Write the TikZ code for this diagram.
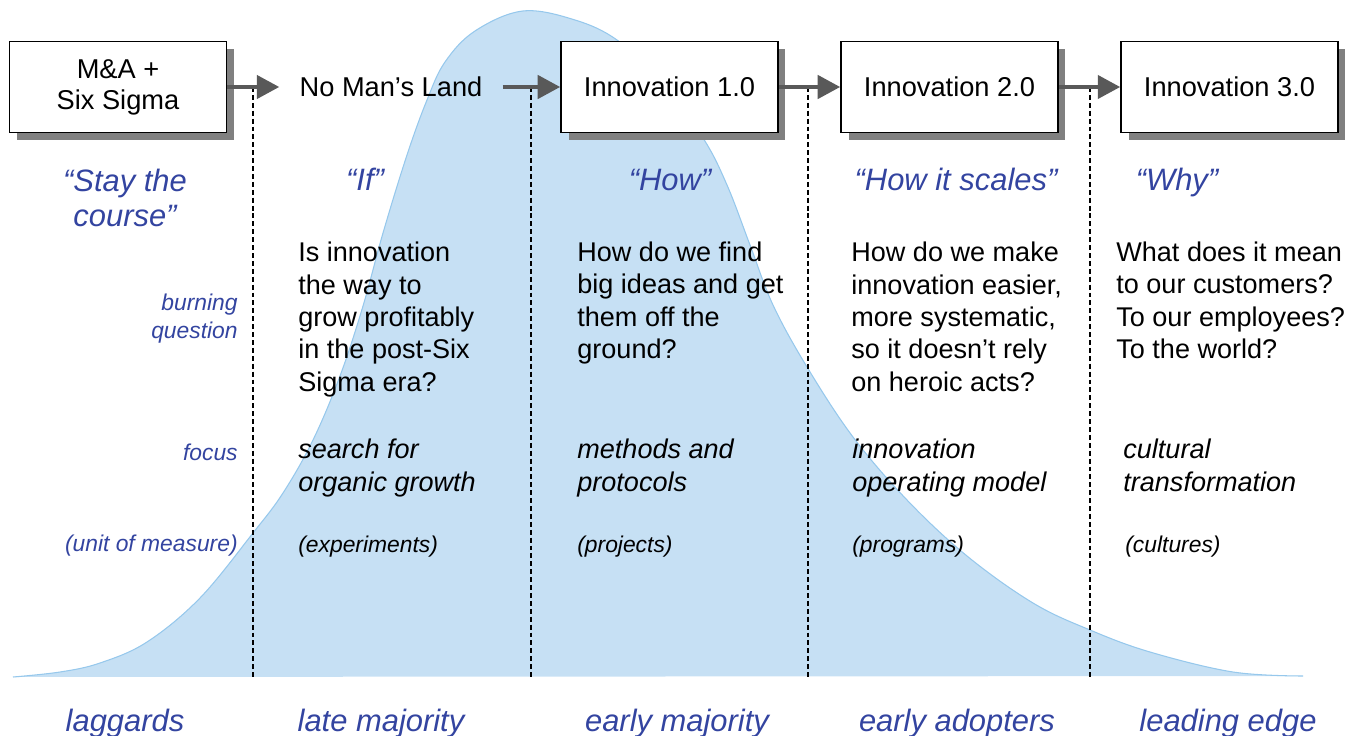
\documentclass[tikz,border=0pt]{standalone}
\usepackage{fontspec}
\setmainfont{Liberation Sans}
\usepackage{tikz}
\usetikzlibrary{arrows.meta,shadows}
\definecolor{qblue}{RGB}{51,68,160}
\definecolor{bellfill}{RGB}{198,224,244}
\definecolor{belledge}{RGB}{150,200,236}
\definecolor{arrgray}{RGB}{89,89,89}
\tikzstyle{stage}=[draw=black, line width=0.9pt, fill=white, minimum width=4.34cm, minimum height=1.82cm, align=center, font=\fontsize{15.5}{17.6}\selectfont, drop shadow={shadow xshift=0.15cm, shadow yshift=-0.15cm, fill=black!50, opacity=1}]
\tikzstyle{flow}=[arrgray, line width=2.5pt, -{Triangle[length=0.45cm,width=0.46cm]}]
\tikzstyle{divider}=[dash pattern=on 2.8pt off 1.7pt, line width=0.7pt]
\tikzstyle{quote}=[qblue, anchor=base, align=center, inner sep=0pt, font=\fontsize{17.6}{20.4}\selectfont\itshape]
\tikzstyle{ask}=[anchor=base west, align=left, inner sep=0pt, font=\fontsize{15.4}{18.4}\selectfont]
\tikzstyle{aim}=[anchor=base west, align=left, inner sep=0pt, font=\fontsize{15.4}{18.7}\selectfont\itshape]
\tikzstyle{unit}=[anchor=base west, inner sep=0pt, font=\fontsize{13}{15.9}\selectfont\itshape]
\tikzstyle{rowlabel}=[qblue, anchor=base east, align=right, inner sep=0pt, font=\fontsize{13}{15.9}\selectfont\itshape]
\tikzstyle{segment}=[qblue, anchor=base, inner sep=0pt, font=\fontsize{17.6}{20}\selectfont\itshape]

\begin{document}
\begin{tikzpicture}[x=0.02cm, y=-0.02cm]
\useasboundingbox (0,0) rectangle (1358,736);
% adoption curve
\fill[bellfill] plot[smooth, tension=0.6] coordinates {(13,677) (60,672) (100,663) (147,642) (200,598) (253,533) (283,493) (313,440) (340,376) (363,306) (383,233) (407,155) (427,100) (445,62) (475,31) (523,11) (575,20) (617,40) (660,80) (703,138) (727,185) (750,245) (773,305) (807,367) (853,437) (907,500) (967,556) (1033,603) (1090,630) (1150,652) (1233,672) (1303,676)} -- cycle;
\draw[belledge, line width=0.6pt] plot[smooth, tension=0.6] coordinates {(13,677) (60,672) (100,663) (147,642) (200,598) (253,533) (283,493) (313,440) (340,376) (363,306) (383,233) (407,155) (427,100) (445,62) (475,31) (523,11) (575,20) (617,40) (660,80) (703,138) (727,185) (750,245) (773,305) (807,367) (853,437) (907,500) (967,556) (1033,603) (1090,630) (1150,652) (1233,672) (1303,676)};
% dividers
\foreach \i/\x in {1/253, 2/531, 3/808, 4/1090} {
  \coordinate (top\i) at (\x,87);
  \coordinate (bot\i) at (\x,677);
  \draw[divider] (top\i) -- (bot\i);
}
% stages
\node[stage] (mna) at (118,87) {M\&A +\\Six Sigma};
\node[inner ysep=4pt, inner xsep=0.4cm, font=\fontsize{15.5}{17.6}\selectfont] (nomans) at (391,87) {No Man’s Land};
\node[stage] (inno1) at (669.5,87) {Innovation 1.0};
\node[stage] (inno2) at (949.5,87) {Innovation 2.0};
\node[stage] (inno3) at (1229.5,87) {Innovation 3.0};
\draw[flow] (mna) -- (nomans);
\draw[flow] (nomans) -- (inno1);
\draw[flow] (inno1) -- (inno2);
\draw[flow] (inno2) -- (inno3);
% quotes (base = last line)
\node[quote] (qstay) at (125,227) {“Stay the\\course”};
\node[quote] (qif) at (365,191) {“If”};
\node[quote] (qhow) at (670,191) {“How”};
\node[quote] (qscale) at (956,191) {“How it scales”};
\node[quote] (qwhy) at (1177,191) {“Why”};
% row labels
\node[rowlabel] (lburn) at (238,338) {burning\\question};
\node[rowlabel] (lfocus) at (238,460) {focus};
\node[rowlabel] (lunit) at (238,551) {(unit of measure)};
% burning questions
\node[ask] (ask2) at (298,391) {Is innovation\\the way to\\grow profitably\\in the post-Six\\Sigma era?};
\node[ask] (ask3) at (577,358.5) {How do we find\\big ideas and get\\them off the\\ground?};
\node[ask] (ask4) at (851,391) {How do we make\\innovation easier,\\more systematic,\\so it doesn’t rely\\on heroic acts?};
\node[ask] (ask5) at (1116,358.5) {What does it mean\\to our customers?\\To our employees?\\To the world?};
% focus
\node[aim] (aim2) at (298,491) {search for\\organic growth};
\node[aim] (aim3) at (577,491) {methods and\\protocols};
\node[aim] (aim4) at (852,491) {innovation\\operating model};
\node[aim] (aim5) at (1123,491) {cultural\\transformation};
% units
\node[unit] (unit2) at (298,552) {(experiments)};
\node[unit] (unit3) at (577,552) {(projects)};
\node[unit] (unit4) at (852,552) {(programs)};
\node[unit] (unit5) at (1125,552) {(cultures)};
% segments
\node[segment] (laggards) at (125,731) {laggards};
\node[segment] (latemaj) at (381,731) {late majority};
\node[segment] (earlymaj) at (677,731) {early majority};
\node[segment] (earlyad) at (957,731) {early adopters};
\node[segment] (leading) at (1228,731) {leading edge};
\end{tikzpicture}
\end{document}
